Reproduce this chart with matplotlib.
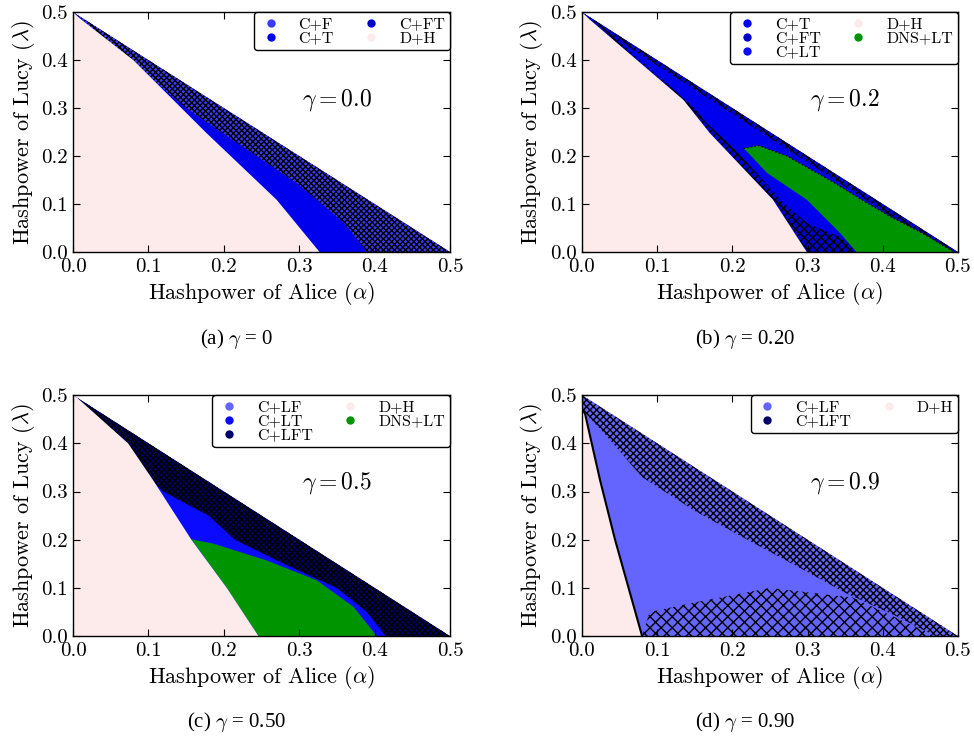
# -*- coding: utf-8 -*-
"""
Region maps of the best strategy over (alpha, lambda) for four gamma values.
Boundaries read off the reference picture.
"""

import matplotlib
matplotlib.use('Agg')
import matplotlib.pyplot as plt
from matplotlib.lines import Line2D

plt.rcParams['font.family'] = ['cmr10', 'DejaVu Serif']
plt.rcParams['mathtext.fontset'] = 'cm'
plt.rcParams['axes.formatter.use_mathtext'] = True
plt.rcParams['hatch.linewidth'] = 1.0

# colours of the strategies
col = {'C+F': '#3a3aff', 'C+T': '#0000ee', 'C+FT': '#0000cc', 'D+H': '#fdeaea',
       'C+LT': '#0a0aff', 'C+LF': '#6464ff', 'C+LFT': '#00006a', 'DNS+LT': '#009400'}

# full feasible triangle alpha + lambda <= 0.5
tri_a = [0.0, 0.0, 0.5]
tri_l = [0.0, 0.5, 0.0]

# ---- (a) gamma = 0
a_pink_a = [0.0, 0.0, 0.009, 0.08, 0.177, 0.27, 0.327]
a_pink_l = [0.0, 0.5, 0.487, 0.40, 0.248, 0.109, 0.0]
a_spk_a = [0.0, 0.5, 0.39, 0.36, 0.30, 0.22, 0.15, 0.06, 0.0]
a_spk_l = [0.5, 0.0, 0.0, 0.06, 0.14, 0.225, 0.30, 0.42, 0.5]

# ---- (b) gamma = 0.2
b_pink_a = [0.0, 0.0, 0.01, 0.135, 0.17, 0.254, 0.299]
b_pink_l = [0.0, 0.5, 0.485, 0.317, 0.248, 0.109, 0.0]
b_spk1_a = [0.0, 0.5, 0.485, 0.0]
b_spk1_l = [0.5, 0.0, 0.0, 0.49]
b_spk2_a = [0.01, 0.135, 0.17, 0.254, 0.299, 0.37, 0.345, 0.30, 0.27, 0.20, 0.165, 0.15, 0.02]
b_spk2_l = [0.485, 0.317, 0.248, 0.109, 0.0, 0.0, 0.03, 0.06, 0.10, 0.22, 0.27, 0.30, 0.48]
b_green_a = [0.215, 0.235, 0.273, 0.336, 0.372, 0.41, 0.452, 0.495, 0.365, 0.343, 0.299, 0.246, 0.222]
b_green_l = [0.216, 0.222, 0.20, 0.144, 0.109, 0.074, 0.04, 0.0, 0.0, 0.04, 0.109, 0.165, 0.205]

# ---- (c) gamma = 0.5
c_pink_a = [0.0, 0.0, 0.005, 0.073, 0.106, 0.157, 0.204, 0.246]
c_pink_l = [0.0, 0.5, 0.495, 0.40, 0.324, 0.20, 0.10, 0.0]
c_spk_a = [0.0, 0.5, 0.415, 0.39, 0.35, 0.28, 0.215, 0.18, 0.12, 0.08, 0.005]
c_spk_l = [0.5, 0.0, 0.0, 0.05, 0.10, 0.15, 0.20, 0.25, 0.30, 0.36, 0.495]
c_green_a = [0.157, 0.186, 0.257, 0.323, 0.372, 0.403, 0.246, 0.204]
c_green_l = [0.201, 0.192, 0.157, 0.116, 0.061, 0.0, 0.0, 0.10]

# ---- (d) gamma = 0.9
d_pink_a = [0.0, 0.0, 0.004, 0.024, 0.044, 0.062, 0.08]
d_pink_l = [0.0, 0.47, 0.462, 0.324, 0.20, 0.10, 0.0]
d_spk_a = [0.0, 0.5, 0.47, 0.42, 0.35, 0.28, 0.22, 0.15, 0.08, 0.03, 0.0]
d_spk_l = [0.5, 0.0, 0.0, 0.04, 0.09, 0.15, 0.20, 0.26, 0.33, 0.42, 0.47]
d_low_a = [0.08, 0.47, 0.36, 0.25, 0.15, 0.09]
d_low_l = [0.0, 0.0, 0.08, 0.10, 0.07, 0.05]

legends = [['C+F', 'C+T', 'C+FT', 'D+H'],
           ['C+T', 'C+FT', 'C+LT', 'D+H', 'DNS+LT'],
           ['C+LF', 'C+LT', 'C+LFT', 'D+H', 'DNS+LT'],
           ['C+LF', 'C+LFT', 'D+H']]
gamma_txt = ['0.0', '0.2', '0.5', '0.9']
captions = [r'(a) $\gamma$ = 0', r'(b) $\gamma$ = 0.20',
            r'(c) $\gamma$ = 0.50', r'(d) $\gamma$ = 0.90']

ticks = [0.0, 0.1, 0.2, 0.3, 0.4, 0.5]


def speckle(ax, xs, ys, face, hatch='x' * 6):
    ax.fill(xs, ys, facecolor=face, edgecolor='black', hatch=hatch, linewidth=0)


fig = plt.figure(figsize=(9.74, 7.38), dpi=100)
pos = [[0.075, 0.6585, 0.387, 0.325], [0.5975, 0.6585, 0.386, 0.325],
       [0.075, 0.138, 0.387, 0.3266], [0.5975, 0.138, 0.386, 0.3266]]
axs = [fig.add_axes(p) for p in pos]

# (a)
ax = axs[0]
ax.fill(tri_a, tri_l, color=col['C+T'], lw=0)
speckle(ax, a_spk_a, a_spk_l, col['C+F'])
ax.fill(a_pink_a, a_pink_l, color=col['D+H'], lw=0)

# (b)
ax = axs[1]
ax.fill(tri_a, tri_l, color=col['C+T'], lw=0)
speckle(ax, b_spk1_a, b_spk1_l, col['C+FT'], hatch='x' * 4)
speckle(ax, b_spk2_a, b_spk2_l, col['C+FT'], hatch='x' * 4)
ax.fill(b_green_a, b_green_l, color=col['DNS+LT'], lw=0)
ax.plot(b_green_a[:8], b_green_l[:8], color='black', lw=1.0, ls=':')
ax.fill(b_pink_a, b_pink_l, color=col['D+H'], lw=0)

# (c)
ax = axs[2]
ax.fill(tri_a, tri_l, color=col['C+LT'], lw=0)
speckle(ax, c_spk_a, c_spk_l, col['C+LFT'])
ax.fill(c_green_a, c_green_l, color=col['DNS+LT'], lw=0)
ax.fill(c_pink_a, c_pink_l, color=col['D+H'], lw=0)

# (d)
ax = axs[3]
ax.fill(tri_a, tri_l, color=col['C+LF'], lw=0)
speckle(ax, d_spk_a, d_spk_l, col['C+LF'], hatch='x' * 5)
speckle(ax, d_low_a, d_low_l, col['C+LF'], hatch='x' * 3)
ax.fill(d_pink_a, d_pink_l, color=col['D+H'], lw=0)
ax.plot(d_pink_a[1:], d_pink_l[1:], color='black', lw=1.5)

for i, ax in enumerate(axs):
    ax.set_xlim(0, 0.5)
    ax.set_ylim(0, 0.5)
    ax.set_xticks(ticks)
    ax.set_yticks(ticks)
    ax.set_xticklabels(['%.1f' % t for t in ticks])
    ax.set_yticklabels(['%.1f' % t for t in ticks])
    ax.tick_params(direction='in', top=True, right=True, labelsize=15, length=5, pad=4)
    ax.set_xlabel(r'Hashpower of Alice ($\alpha$)', fontsize=16, labelpad=3)
    ax.set_ylabel(r'Hashpower of Lucy ($\lambda$)', fontsize=16, labelpad=3)
    ax.text(0.35, 0.317, r'$\gamma = %s$' % gamma_txt[i], fontsize=17, ha='center', va='center')
    handles = [Line2D([], [], ls='none', marker='o', ms=6, mec='none', mfc=col[k]) for k in legends[i]]
    leg = ax.legend(handles, legends[i], loc='upper right', ncol=2, fontsize=11.5,
                    borderaxespad=0, frameon=True, fancybox=True, framealpha=1,
                    labelspacing=0.0, handlelength=1.5, handletextpad=1.0,
                    columnspacing=1.6, borderpad=0.3)
    leg.get_frame().set_edgecolor('black')
    for s in ax.spines.values():
        s.set_linewidth(1.0)

cap_y = [0.5407, 0.5407, 0.0217, 0.0217]
cap_x = [0.243, 0.765, 0.243, 0.765]
for i in range(4):
    fig.text(cap_x[i], cap_y[i], captions[i], fontsize=15, ha='center', va='center',
             family=['Liberation Serif', 'DejaVu Serif'])

plt.savefig('out.png', dpi=100)
